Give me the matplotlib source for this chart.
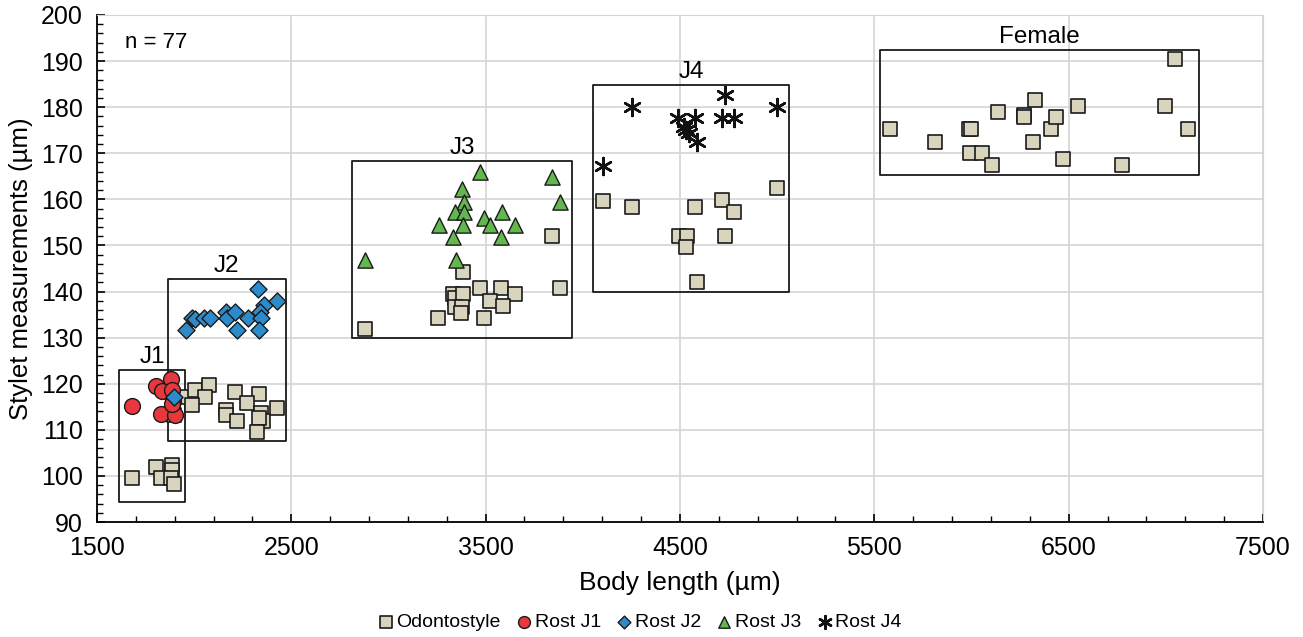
import matplotlib
matplotlib.use("Agg")
import matplotlib.pyplot as plt
import numpy as np
from matplotlib.patches import Rectangle
from matplotlib.ticker import MultipleLocator

plt.rcParams["font.family"] = ["Liberation Sans", "DejaVu Sans"]

# Odontostyle length vs body length (all stages)
odonto_x = [1682, 1802, 1884, 1884, 1832, 1881, 1897,
            1897, 1953, 2004, 2078, 2056, 1987, 2209, 2335, 2273, 2163, 2163,
            2223, 2344, 2427, 2356, 2335, 2325,
            2879, 3840, 3883, 3385, 3471, 3580, 3651, 3522, 3587, 3256, 3493,
            3330, 3342, 3385, 3342, 3377, 3372,
            4106, 4252, 4578, 4718, 4778, 4998, 4495, 4534, 4531, 4734, 4590,
            5581, 5813, 5985, 6000, 5993, 6053, 6104, 6139, 6271, 6271, 6327,
            6315, 6408, 6435, 6473, 6550, 6773, 6996, 7048, 7116]
odonto_y = [99.6, 102.0, 102.4, 101.3, 99.5, 99.5, 98.2,
            113.3, 117.2, 118.6, 119.8, 117.2, 115.4, 118.3, 117.8, 115.8, 114.4, 113.2,
            112.0, 113.6, 114.7, 112.0, 112.5, 109.6,
            131.8, 152.1, 140.7, 144.3, 140.7, 140.7, 139.5, 138.0, 136.9, 134.2, 134.2,
            139.5, 138.5, 139.5, 136.7, 136.7, 135.4,
            159.7, 158.4, 158.4, 159.9, 157.3, 162.4, 152.1, 152.1, 149.6, 152.1, 142.0,
            175.2, 172.5, 175.2, 175.2, 170.0, 170.0, 167.5, 179.0, 178.3, 177.9, 181.6,
            172.5, 175.2, 177.8, 168.8, 180.3, 167.5, 180.3, 190.5, 175.2]

# Replacement odontostyle per juvenile stage
j1_x = [1682, 1802, 1881, 1836, 1887, 1892, 1829, 1901, 1884]
j1_y = [115.2, 119.6, 121.0, 118.4, 118.6, 116.3, 113.4, 113.2, 115.7]

j2_x = [1956, 1987, 2004, 2052, 2081, 2162, 2167, 2209, 2222, 2275,
        2330, 2361, 2339, 2344, 2335, 2425, 1897]
j2_y = [131.7, 134.2, 134.0, 134.2, 134.2, 135.6, 134.2, 135.6, 131.7, 134.2,
        140.6, 137.1, 135.6, 134.2, 131.7, 138.0, 117.1]

j3_x = [2879, 3471, 3840, 3883, 3377, 3389, 3342, 3389, 3260, 3385,
        3330, 3493, 3522, 3585, 3651, 3580, 3348]
j3_y = [146.8, 166.0, 164.8, 159.5, 162.2, 159.5, 157.2, 157.2, 154.4, 154.4,
        151.8, 155.9, 154.4, 157.2, 154.4, 151.8, 146.8]

j4_x = [4252, 4106, 4732, 4998, 4492, 4578, 4716, 4778, 4520, 4531, 4545, 4590]
j4_y = [180.1, 167.3, 182.6, 180.1, 177.6, 177.6, 177.6, 177.6, 175.6, 175.0, 174.4, 172.5]

# Group boxes: label, x0, x1, y0, y1
box_labels = ["J1", "J2", "J3", "J4", "Female"]
box_x0 = [1613, 1864, 2814, 4054, 5530]
box_x1 = [1953, 2471, 3943, 5063, 7172]
box_y0 = [94.3, 107.6, 129.9, 140.0, 165.3]
box_y1 = [123.0, 142.7, 168.3, 184.8, 192.4]

x_ticks = [1500, 2500, 3500, 4500, 5500, 6500, 7500]

fig = plt.figure(figsize=(13.03, 6.37), dpi=100)
ax = fig.add_axes([0.0744, 0.1805, 0.8949, 0.7960])

ax.scatter(odonto_x, odonto_y, marker="s", s=115, facecolor="#D9D4BE",
           edgecolor="#1A1A1A", linewidth=1.2, label="Odontostyle", zorder=3)
ax.scatter(j1_x, j1_y, marker="o", s=130, facecolor="#E8383D",
           edgecolor="#1A1A1A", linewidth=1.0, label="Rost J1", zorder=4)
ax.scatter(j2_x, j2_y, marker="D", s=75, facecolor="#2E8BCB",
           edgecolor="#1A1A1A", linewidth=1.0, label="Rost J2", zorder=5)
ax.scatter(j3_x, j3_y, marker="^", s=120, facecolor="#62B84E",
           edgecolor="#1A1A1A", linewidth=1.0, label="Rost J3", zorder=5)
ax.scatter(j4_x, j4_y, marker=(6, 2, 0), s=150, color="#111111",
           linewidth=1.8, label="Rost J4", zorder=5)

for lab, x0, x1, y0, y1 in zip(box_labels, box_x0, box_x1, box_y0, box_y1):
    ax.add_patch(Rectangle((x0, y0), x1 - x0, y1 - y0, fill=False,
                           edgecolor="#1A1A1A", linewidth=1.3, zorder=2,
                           joinstyle="round"))
    ax.text((x0 + x1) / 2, y1 + 0.4, lab, ha="center", va="bottom", fontsize=17.5)

ax.text(0.024, 0.945, "n = 77", transform=ax.transAxes, fontsize=16,
        ha="left", va="center")

ax.set_xlim(1500, 7500)
ax.set_ylim(90, 200)
ax.set_xticks(x_ticks)
ax.set_xticks(np.arange(1500, 7501, 200), minor=True)
ax.yaxis.set_major_locator(MultipleLocator(10))
ax.yaxis.set_minor_locator(MultipleLocator(2))
ax.grid(True, which="major", color="#D4D4D4", linewidth=1.2, zorder=0)
ax.set_axisbelow(True)
ax.tick_params(which="both", direction="in", labelsize=18, top=False, right=False)
ax.tick_params(which="major", length=6, width=1.2, pad=10)
ax.tick_params(which="minor", length=4, width=1.0)
for side in ["top", "right"]:
    ax.spines[side].set_color("#D4D4D4")
for side in ["left", "bottom"]:
    ax.spines[side].set_linewidth(1.3)

ax.set_xlabel("Body length (µm)", fontsize=19, labelpad=8)
ax.set_ylabel("Stylet measurements (µm)", fontsize=18.5, labelpad=6)

fig.legend(loc="lower center", bbox_to_anchor=(0.491, -0.018), ncol=5, frameon=False,
           fontsize=14, handlelength=0.8, handletextpad=0.15, columnspacing=0.8,
           markerscale=0.75)

fig.savefig("out.png", dpi=100)
